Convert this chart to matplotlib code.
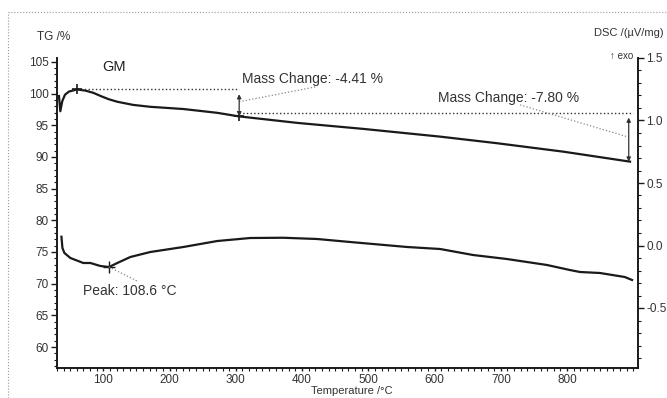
import numpy as np
import matplotlib.pyplot as plt
from matplotlib.ticker import MultipleLocator

plt.rcParams['font.family'] = ['Liberation Sans', 'DejaVu Sans']

# TG curve (mass, %)
tg_temp = [33, 35, 38, 42, 48, 55, 60, 73, 85, 96, 108, 121, 145, 171, 221, 272,
           304, 393, 492, 608, 694, 794, 895]
tg_mass = [99.6, 97.2, 98.8, 99.8, 100.3, 100.5, 100.65, 100.45, 100.1, 99.6, 99.1,
           98.7, 98.2, 97.9, 97.55, 96.95, 96.4, 95.36, 94.42, 93.2, 92.16, 90.83, 89.25]

# DSC curve (uV/mg)
dsc_temp = [36.7, 38.2, 41.2, 50.2, 69.8, 80.4, 95.5, 108.6, 121, 140.7, 170.9, 220.7,
            272, 321.7, 371.5, 422.8, 472.5, 507, 558.5, 608.3, 658, 709, 769.7, 804,
            819.5, 849.6, 887, 898]
dsc_val = [0.07, -0.02, -0.06, -0.10, -0.14, -0.14, -0.164, -0.172, -0.14, -0.092,
           -0.052, -0.012, 0.036, 0.06, 0.062, 0.052, 0.028, 0.012, -0.012, -0.028,
           -0.076, -0.108, -0.156, -0.196, -0.212, -0.22, -0.252, -0.276]

# mass change steps
step1 = (60, 305, 100.7, 96.4, "Mass Change: -4.41 %")
step2 = (305, 893, 96.9, 89.25, "Mass Change: -7.80 %")
peak_t, peak_v = 108.6, -0.172

fig = plt.figure(figsize=(6.67, 3.98), dpi=100)
ax = fig.add_axes([57/667, 1-368/398, (638-57)/667, (368-58)/398])
ax2 = ax.twinx()

ink = '#1a1a1a'
ax.plot(tg_temp, tg_mass, color=ink, lw=1.6)
ax2.plot(dsc_temp, dsc_val, color=ink, lw=1.6)

ax.set_xlim(30, 907)
ax.set_ylim(56.7, 105.6)
ax2.set_ylim(-0.98, 1.5)

# mass change construction
ax.plot([step1[0], step1[1]], [step1[2], step1[2]], ':', color='#333', lw=1.0)
ax.plot([step2[0], step2[1] + 7], [step2[2], step2[2]], ':', color='#333', lw=1.0)
ax.plot([step1[0], step1[1]], [step1[2], step1[3]], '+', color=ink, ms=7, mew=1.2)
for x0, y0, y1 in [(step1[1], step1[2] - 0.8, step1[3]), (step2[1], step2[2] - 0.7, step2[3])]:
    ax.annotate('', xy=(x0, y1), xytext=(x0, y0),
                arrowprops=dict(arrowstyle='<|-|>', color='#333', lw=0.9,
                                mutation_scale=6, shrinkA=0, shrinkB=0))
ax.plot([305, 423], [98.7, 101.1], ':', color='#888', lw=0.9)
ax.plot([729, 892], [98.2, 93.15], ':', color='#888', lw=0.9)
ax.text(309, 101.6, step1[4], fontsize=10, color='#333')
ax.text(605, 98.7, step2[4], fontsize=10, color='#333')
ax.text(98, 103.6, "GM", fontsize=10.5, color='#222')

# DSC peak
ax2.plot([peak_t], [peak_v], '+', color=ink, ms=8, mew=1.0)
ax2.plot([peak_t, 153], [peak_v, -0.29], ':', color='#888', lw=0.9)
ax2.text(70, -0.396, "Peak: 108.6 \u00b0C", fontsize=10, color='#333')

# axes styling
for a in (ax, ax2):
    a.spines['top'].set_visible(False)
    for s in a.spines.values():
        s.set_linewidth(1.4)
        s.set_color(ink)
ax.spines['right'].set_visible(False)
ax2.spines['left'].set_visible(False)
ax2.spines['bottom'].set_visible(False)

ax.set_xticks([100, 200, 300, 400, 500, 600, 700, 800])
ax.xaxis.set_minor_locator(MultipleLocator(10))
ax.set_yticks([60, 65, 70, 75, 80, 85, 90, 95, 100, 105])
ax.yaxis.set_minor_locator(MultipleLocator(1))
ax2.set_yticks([-0.5, 0.0, 0.5, 1.0, 1.5])
ax2.yaxis.set_major_formatter(plt.FormatStrFormatter('%.1f'))
ax2.yaxis.set_minor_locator(MultipleLocator(0.1))

ax.tick_params(axis='both', which='major', length=4, width=1.0, labelsize=8.5,
               colors=ink, labelcolor='#333')
ax.tick_params(axis='both', which='minor', length=2, width=0.8, colors=ink)
ax.tick_params(axis='x', which='major', length=2, pad=2)
ax.tick_params(axis='y', pad=2)
ax2.tick_params(axis='y', which='major', length=4, width=1.0, labelsize=8.5,
                colors=ink, labelcolor='#333', pad=2)
ax2.tick_params(axis='y', which='minor', length=2, width=0.8, colors=ink)

fig.text(352/667, 1-391/398, "Temperature /\u00b0C", fontsize=8, color='#333',
         ha='center', va='center')
fig.text(37/667, 1-37/398, "TG /%", fontsize=8.5, color='#333', ha='left', va='center')
fig.text(664/667, 1-33/398, "DSC /(\u00b5V/mg)", fontsize=8, color='#333',
         ha='right', va='center')
fig.text(610/667, 1-56/398, "\u2191 exo", fontsize=7, color='#333', ha='left', va='center')

# dotted frame of the scanned page
fig.add_artist(plt.Line2D([8/667, 1], [1-12/398, 1-12/398], transform=fig.transFigure,
                          ls=':', color='#999', lw=0.8))
fig.add_artist(plt.Line2D([8/667, 8/667], [0, 1-12/398], transform=fig.transFigure,
                          ls=':', color='#999', lw=0.8))

fig.savefig('out.png', dpi=100)
